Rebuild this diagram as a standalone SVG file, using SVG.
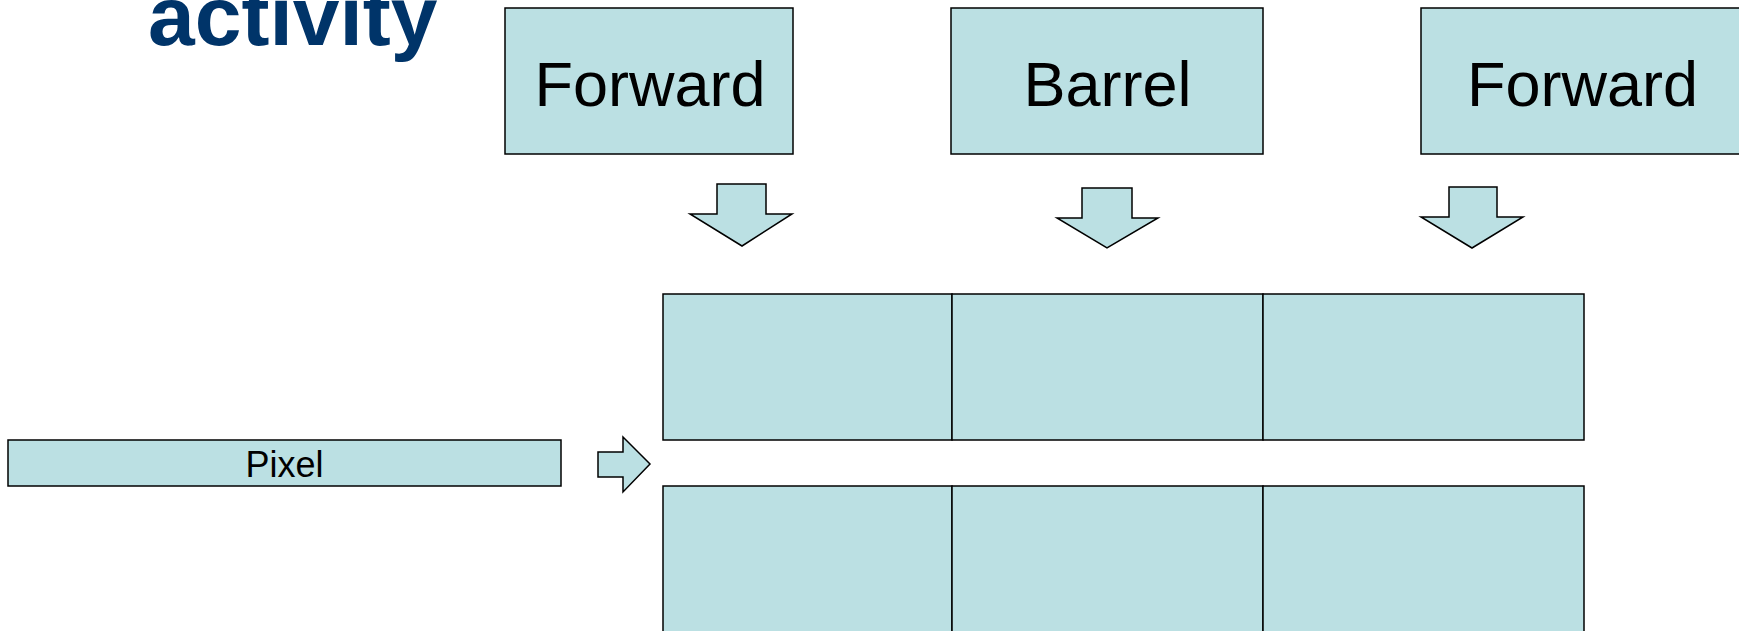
<svg xmlns="http://www.w3.org/2000/svg" width="1739" height="631" viewBox="0 0 1739 631">
<style>
.box{fill:#BBE0E3;stroke:#000;stroke-width:1.5}
.arr{fill:#BBE0E3;stroke:#000;stroke-width:1.5;stroke-linejoin:miter}
.big{font-family:"Liberation Sans",Arial,sans-serif;font-size:63px;fill:#000;text-anchor:middle}
.small{font-family:"Liberation Sans",Arial,sans-serif;font-size:36px;fill:#000;text-anchor:middle}
.title{font-family:"Liberation Sans",Arial,sans-serif;font-size:84px;font-weight:bold;fill:#003469}
</style>
<rect width="1739" height="631" fill="#fff"/>
<text class="title" x="148" y="45">activity</text>
<g id="forward-left">
<rect class="box" x="505" y="8" width="288" height="146"/>
<text class="big" x="650" y="106">Forward</text>
</g>
<g id="barrel">
<rect class="box" x="951" y="8" width="312" height="146"/>
<text class="big" x="1107.5" y="106">Barrel</text>
</g>
<g id="forward-right">
<rect class="box" x="1421" y="8" width="323" height="146"/>
<text class="big" x="1582.5" y="106">Forward</text>
</g>
<g id="pixel">
<rect class="box" x="8" y="440" width="553" height="46"/>
<text class="small" x="284.5" y="477">Pixel</text>
</g>
<g id="grid-top">
<rect class="box" x="663" y="294" width="289" height="146"/>
<rect class="box" x="952" y="294" width="311" height="146"/>
<rect class="box" x="1263" y="294" width="321" height="146"/>
</g>
<g id="grid-bottom">
<rect class="box" x="663" y="486" width="289" height="146"/>
<rect class="box" x="952" y="486" width="311" height="146"/>
<rect class="box" x="1263" y="486" width="321" height="146"/>
</g>
<g id="connectors">
<polygon class="arr" points="717,184 766,184 766,214 792,214 742,246 690,214 717,214"/>
<polygon class="arr" points="1082,188 1132,188 1132,218 1158,218 1107,248 1057,218 1082,218"/>
<polygon class="arr" points="1449,187 1497,187 1497,217 1523,217 1472,248 1421,217 1449,217"/>
<polygon class="arr" points="598,452 623,452 623,437 650,464 623,492 623,477 598,477"/>
</g>
</svg>
